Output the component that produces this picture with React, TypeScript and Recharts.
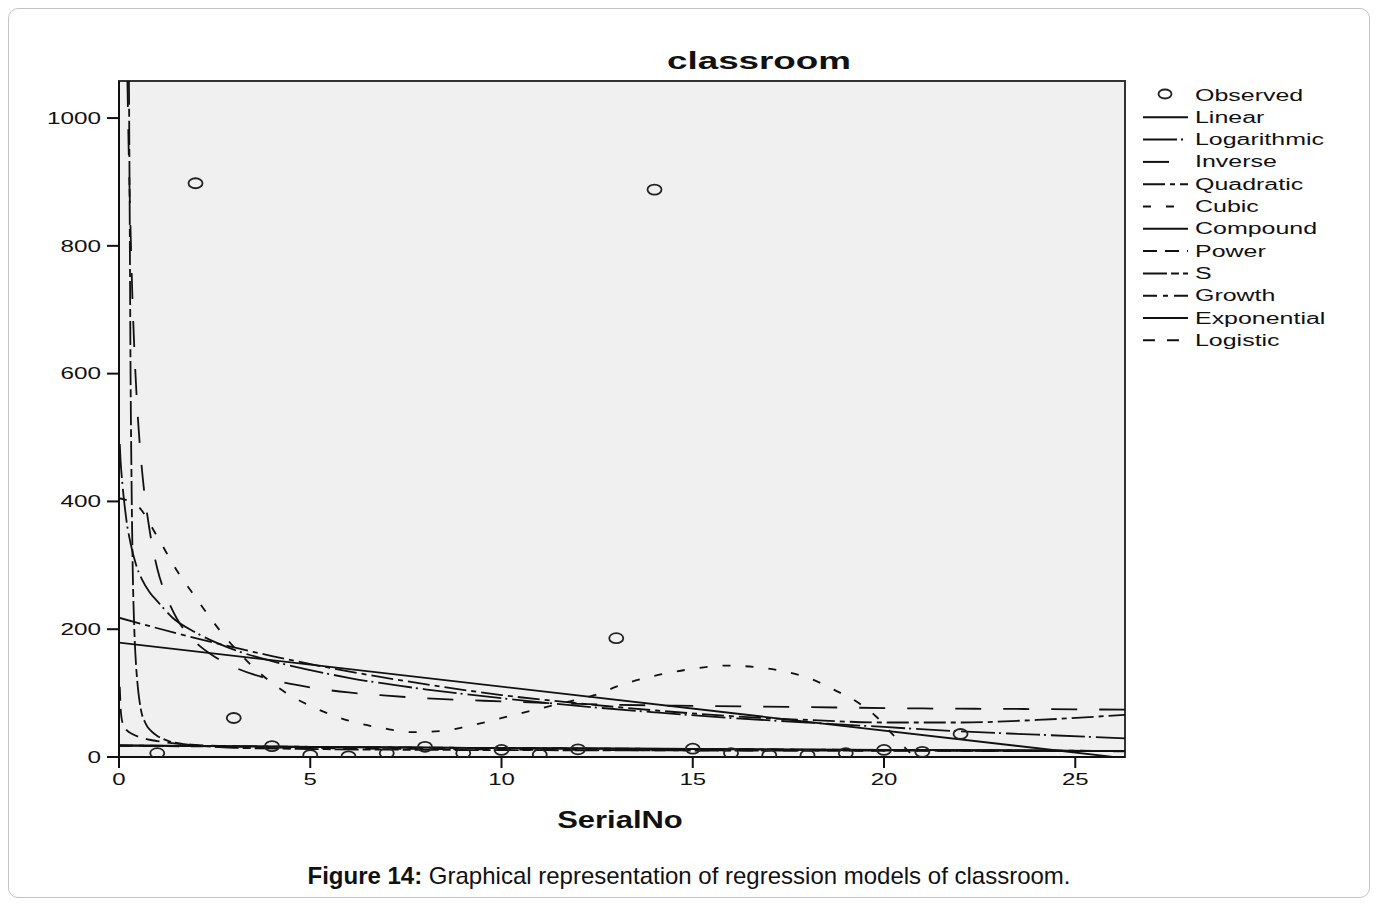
import { ComposedChart, Line, Scatter, XAxis, YAxis, CartesianGrid, ReferenceArea } from 'recharts'

const FONT = "'Liberation Sans', Arial, sans-serif"

const X_TICKS = [0, 5, 10, 15, 20, 25]
const Y_TICKS = [0, 200, 400, 600, 800, 1000]
const X_MAX = 26.3
const Y_MAX = 1058

// observed values per SerialNo
const SERIAL_NO = [1, 2, 3, 4, 5, 6, 7, 8, 9, 10, 11, 12, 13, 14, 15, 16, 17, 18, 19, 20, 21, 22]
const OBSERVED = [6, 898, 61, 17, 3, 1, 6, 16, 6, 11, 4, 12, 186, 888, 13, 6, 3, 3, 6, 11, 8, 36]

// fitted curves, [SerialNo, value]
const LINEAR: [number, number][] = [[0, 179], [26.3, -2]]
const LOGARITHMIC: [number, number][] = [
  [0.02, 490], [0.04, 465], [0.07, 440], [0.1, 420], [0.15, 392], [0.2, 368], [0.3, 335], [0.45, 300],
  [0.6, 278], [0.8, 258], [1, 244], [1.4, 218], [2, 195], [3, 168], [4, 150], [5, 136], [6, 124],
  [8, 106], [10, 92], [12, 80], [14, 70], [16, 61], [18, 54], [20, 47], [22, 40], [24, 35], [26.3, 29],
]
const INVERSE: [number, number][] = [
  [0.22, 1058], [0.25, 960], [0.3, 830], [0.35, 720], [0.4, 640], [0.5, 525], [0.6, 450], [0.8, 355],
  [1, 295], [1.25, 250], [1.5, 218], [2, 180], [2.5, 157], [3, 141], [4, 121], [5, 109], [6, 101],
  [7, 96], [8, 92], [10, 87], [12, 83], [15, 80], [18, 78], [21, 76], [24, 75], [26.3, 74],
]
const QUADRATIC: [number, number][] = [
  [0, 218], [2, 186], [4, 158], [6, 134], [8, 114], [10, 97], [12, 84], [14, 73], [16, 64],
  [18, 58], [20, 54], [22, 54], [24, 58], [26.3, 66],
]
const CUBIC: [number, number][] = [
  [0, 405], [0.5, 392], [1, 345], [1.5, 293], [2, 250], [2.65, 197], [3.35, 150], [4.35, 101], [5, 80],
  [6, 57], [7, 44], [7.6, 39], [8.5, 41], [9.1, 48], [10.4, 67], [11.7, 86], [12.6, 100], [13, 110],
  [14, 127], [15, 138], [15.9, 143], [17.3, 135], [18.1, 122], [18.7, 105], [19.3, 86], [19.8, 63],
  [20.2, 37], [20.8, 0], [21, -10],
]
const COMPOUND: [number, number][] = [[0, 18], [5, 16], [10, 14], [15, 12.5], [20, 11], [26.3, 9.5]]
const POWER: [number, number][] = [
  [0.02, 110], [0.05, 70], [0.1, 52], [0.2, 42], [0.35, 36], [0.5, 32], [0.8, 27], [1, 25], [1.5, 21],
  [2, 19], [3, 16.5], [5, 14], [8, 12.5], [12, 11], [18, 10], [26.3, 9],
]
const S_CURVE: [number, number][] = [
  [0.26, 1058], [0.28, 850], [0.3, 620], [0.33, 420], [0.36, 290], [0.4, 200], [0.45, 140], [0.5, 105],
  [0.57, 75], [0.7, 52], [0.85, 40], [1, 33], [1.3, 25], [1.7, 20], [2, 18], [3, 14.5], [5, 12.5],
  [8, 11.2], [12, 10.5], [18, 10], [26.3, 9.7],
]
const GROWTH: [number, number][] = [[0, 18], [5, 16], [10, 14], [15, 12.5], [20, 11], [26.3, 9.5]]
const EXPONENTIAL: [number, number][] = [[0, 18], [5, 16], [10, 14], [15, 12.5], [20, 11], [26.3, 9.5]]
const LOGISTIC: [number, number][] = [[0, 17.5], [5, 15.5], [10, 13.8], [15, 12.3], [20, 10.8], [26.3, 9.4]]

const toPts = (pairs: [number, number][]) => pairs.map(([x, y]) => ({ x, y }))
const observedPts = SERIAL_NO.map((x, i) => ({ x, y: OBSERVED[i] }))

const SERIES = [
  { name: 'Linear', data: LINEAR, dash: undefined },
  { name: 'Logarithmic', data: LOGARITHMIC, dash: '34 4 2 5' },
  { name: 'Inverse', data: INVERSE, dash: '26 22' },
  { name: 'Quadratic', data: QUADRATIC, dash: '22 5 5 5' },
  { name: 'Cubic', data: CUBIC, dash: '8 15' },
  { name: 'Compound', data: COMPOUND, dash: undefined },
  { name: 'Power', data: POWER, dash: '14 8' },
  { name: 'S', data: S_CURVE, dash: '24 4 8 4' },
  { name: 'Growth', data: GROWTH, dash: '14 6 5 6' },
  { name: 'Exponential', data: EXPONENTIAL, dash: undefined },
  { name: 'Logistic', data: LOGISTIC, dash: '12 12' },
]

const INK = '#111'

const YTick = ({ x, y, payload }: any) => (
  <g transform={`translate(${x},${y}) scale(1.52,1)`}>
    <text textAnchor="end" dy={5.7} fontSize={16} fill={INK} fontFamily={FONT}>{payload.value}</text>
  </g>
)

const XTick = ({ x, y, payload }: any) => (
  <g transform={`translate(${x},${y}) scale(1.5,1)`}>
    <text textAnchor="middle" dy={15} fontSize={16} fill={INK} fontFamily={FONT}>{payload.value}</text>
  </g>
)

const Ring = ({ cx, cy }: any) => (
  <ellipse cx={cx} cy={cy} rx={7} ry={5} fill="none" stroke="#222" strokeWidth={1.8} />
)

function LegendBox() {
  const x0 = 1134
  const rowY = (i: number) => 86 + i * 22.3
  return (
    <g fontFamily={FONT} fontSize={16} fill={INK}>
      <ellipse cx={1156} cy={rowY(0) - 1} rx={6.5} ry={4.5} fill="none" stroke="#222" strokeWidth={1.8} />
      <g transform={`translate(1186,${rowY(0) + 5.5}) scale(1.56,1)`}>
        <text>Observed</text>
      </g>
      {SERIES.map((s, i) => (
        <g key={s.name}>
          <line x1={x0} x2={x0 + 45} y1={rowY(i + 1)} y2={rowY(i + 1)} stroke={INK} strokeWidth={2} strokeDasharray={s.dash} />
          <g transform={`translate(1186,${rowY(i + 1) + 5.5}) scale(1.56,1)`}>
            <text>{s.name}</text>
          </g>
        </g>
      ))}
    </g>
  )
}

export default function App() {
  return (
    <div
      style={{
        position: 'relative',
        width: 1360,
        height: 888,
        border: '1px solid #c4c4c4',
        borderRadius: 10,
        background: '#fff',
        fontFamily: FONT,
      }}
    >
      <div style={{ position: 'absolute', left: 0, top: 0 }}>
        <ComposedChart width={1360} height={800} margin={{ top: 72, right: 244, bottom: 12, left: 0 }}>
          <CartesianGrid fill="#f0f0f0" horizontal={false} vertical={false} />
          <XAxis
            type="number"
            dataKey="x"
            domain={[0, X_MAX]}
            ticks={X_TICKS}
            allowDataOverflow
            height={40}
            tickSize={11}
            tickMargin={2}
            tick={<XTick />}
            axisLine={{ stroke: INK, strokeWidth: 2 }}
            tickLine={{ stroke: INK, strokeWidth: 2 }}
          />
          <YAxis
            type="number"
            dataKey="y"
            domain={[0, Y_MAX]}
            ticks={Y_TICKS}
            allowDataOverflow
            width={110}
            tickSize={12}
            tickMargin={6}
            tick={<YTick />}
            axisLine={{ stroke: INK, strokeWidth: 2 }}
            tickLine={{ stroke: INK, strokeWidth: 2 }}
          />
          <ReferenceArea x1={0} x2={X_MAX} y1={0} y2={Y_MAX} fill="none" stroke="#333" strokeWidth={2} />
          {SERIES.map((s) => (
            <Line
              key={s.name}
              data={toPts(s.data)}
              dataKey="y"
              type="monotone"
              stroke={INK}
              strokeWidth={1.8}
              strokeDasharray={s.dash}
              dot={false}
              activeDot={false}
              isAnimationActive={false}
            />
          ))}
          <Scatter data={observedPts} dataKey="y" shape={<Ring />} isAnimationActive={false} />
        </ComposedChart>
      </div>
      <svg width={1360} height={888} style={{ position: 'absolute', left: 0, top: 0, pointerEvents: 'none' }}>
        <g transform="translate(750,60) scale(1.6,1)">
          <text textAnchor="middle" fontFamily={FONT} fontSize={23} fontWeight="bold" fill={INK}>classroom</text>
        </g>
        <g transform="translate(611,819) scale(1.29,1)">
          <text textAnchor="middle" fontFamily={FONT} fontSize={24} fontWeight="bold" fill={INK}>SerialNo</text>
        </g>
        <LegendBox />
      </svg>
      <div
        style={{
          position: 'absolute',
          left: 0,
          width: 1360,
          top: 853,
          textAlign: 'center',
          fontSize: 24,
          lineHeight: '28px',
          color: '#111',
        }}
      >
        <b>Figure 14:</b> Graphical representation of regression models of classroom.
      </div>
    </div>
  )
}
